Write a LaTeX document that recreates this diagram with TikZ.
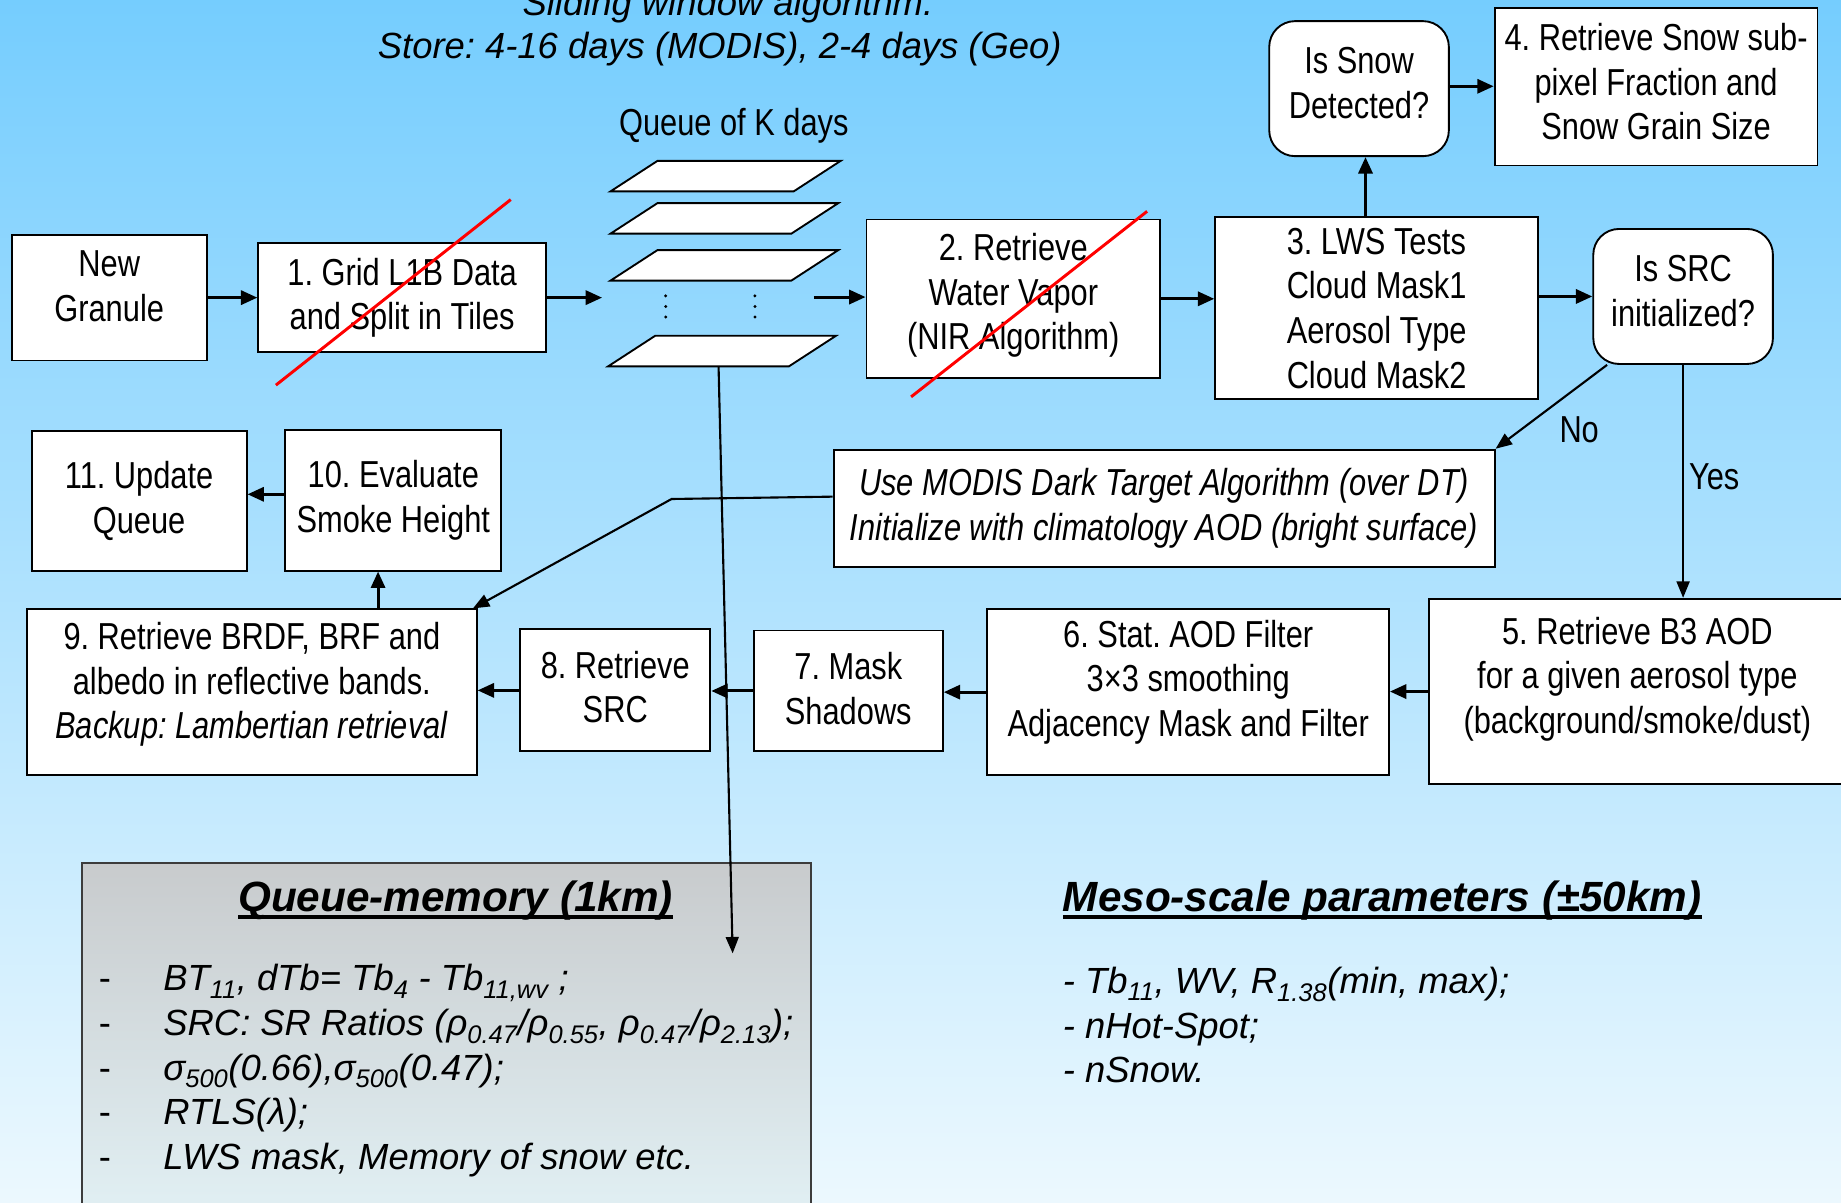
\documentclass[tikz,border=0pt]{standalone}
\usepackage{fontspec}
\setmainfont{Liberation Sans}
\newfontfamily\narrowfont[FakeStretch=0.82]{Liberation Sans}
\usetikzlibrary{arrows.meta,calc}
\definecolor{bgtop}{RGB}{117,205,254}
\definecolor{bgmid}{RGB}{170,222,252}
\definecolor{bgbot}{RGB}{236,248,254}
\definecolor{qtop}{RGB}{200,203,205}
\definecolor{qbot}{RGB}{226,241,245}
\definecolor{qborder}{RGB}{60,60,60}
\newcommand\thickul[1]{\setbox0\hbox{#1}\rlap{\rule[-6pt]{\wd0}{2.6pt}}\box0}
\frenchspacing
\begin{document}
\begin{tikzpicture}[x=1pt,y=-1pt,
 blk/.style={draw=black, line width=1.6pt, fill=white, align=center, font=\narrowfont\fontsize{32}{38}\selectfont\frenchspacing, inner sep=0pt},
 rblk/.style={blk, rounded corners=22pt},
 flowarrow/.style={line width=2.6pt, -{Triangle[length=14pt,width=12pt]}},
 slim/.style={line width=1.8pt, -{Triangle[length=14pt,width=11pt]}},
 lbl/.style={font=\narrowfont\fontsize{32}{38}\selectfont, inner sep=0pt},
 tile/.style={draw=black, line width=1.6pt, fill=white},
 strike/.style={draw=red, line width=2.5pt},
 rtext/.style={font=\fontsize{31}{38}\selectfont\frenchspacing, inner sep=0pt, align=left},
 head/.style={font=\fontsize{36}{40}\selectfont\bfseries\itshape, inner sep=0pt},
]
\useasboundingbox (0,0) rectangle (1568,1024);
\clip (0,0) rectangle (1568,1024);
\shade[top color=bgtop, middle color=bgmid, bottom color=bgbot] (0,0) rectangle (1568,1024);

% titles
\node[font=\fontsize{31}{37}\selectfont\itshape\frenchspacing, inner sep=0pt] (t1) at (620,5) {Sliding window algorithm.};
\node[font=\fontsize{31}{37}\selectfont\itshape\frenchspacing, inner sep=0pt] (t2) at (613,42) {Store: 4-16 days (MODIS), 2-4 days (Geo)};
\node[lbl] (qlabel) at (625,107) {Queue of K days};

% queue tiles
\draw[tile] (560,137) -- (716,137) -- (676,163) -- (520,163) -- cycle;
\draw[tile] (560,173) -- (714,173) -- (674,199) -- (520,199) -- cycle;
\draw[tile] (560,213) -- (714,213) -- (674,239) -- (520,239) -- cycle;
\draw[tile] (558,286) -- (712,286) -- (672,312) -- (518,312) -- cycle;
\foreach \x in {567,643} \foreach \y in {252,261,270} \fill (\x,\y) circle (1.4);
\node[minimum width=180, minimum height=175, inner sep=0pt] (queue) at (603,224.5) {};
\coordinate (qtail) at (612,312);
\coordinate (qhead) at (624,812);

% boxes
\node[blk, minimum width=166, minimum height=107, text depth=20pt] (newg) at (93,253.5) {New\\Granule};
\node[blk, minimum width=245, minimum height=93] (grid) at (342.5,253.5) {1. Grid L1B Data\\and Split in Tiles};
\node[blk, minimum width=250, minimum height=135, text depth=12pt] (wv) at (863,254.5) {2. Retrieve\\Water Vapor\\(NIR Algorithm)};
\node[blk, minimum width=275, minimum height=155, align=left] (lws) at (1172.5,262.5) {3. LWS Tests\\Cloud Mask1\\Aerosol Type\\Cloud Mask2};
\node[rblk, minimum width=153, minimum height=115, text depth=10pt] (snow) at (1157.5,75.5) {Is Snow\\Detected?};
\node[blk, minimum width=275, minimum height=134, text depth=9pt] (b4) at (1410.5,74) {4. Retrieve Snow sub-\\pixel Fraction and\\Snow Grain Size};
\node[rblk, minimum width=153, minimum height=115, text depth=10pt] (src) at (1433.5,252.5) {Is SRC\\initialized?};
\node[blk, minimum width=563, minimum height=100, font=\narrowfont\fontsize{32}{38}\selectfont\itshape] (modis) at (991.5,433) {Use MODIS Dark Target Algorithm (over DT)\\Initialize with climatology AOD (bright surface)};
\node[blk, minimum width=355, minimum height=158, text depth=28pt] (b5) at (1394.5,589) {5. Retrieve B3 AOD\\for a given aerosol type\\(background/smoke/dust)};
\node[blk, minimum width=342, minimum height=141, text depth=24pt] (b6) at (1012,589.5) {6. Stat. AOD Filter\\3\texttimes3 smoothing\\Adjacency Mask and Filter};
\node[blk, minimum width=161, minimum height=103, text depth=4pt] (b7) at (722.5,588.5) {7. Mask\\Shadows};
\node[blk, minimum width=162, minimum height=104, text depth=6pt] (b8) at (524,588) {8. Retrieve\\SRC};
\node[blk, minimum width=383, minimum height=141, text depth=20pt] (b9) at (214.5,589.5) {9. Retrieve BRDF, BRF and\\albedo in reflective bands.\\\textit{Backup: Lambertian retrieval}};
\node[blk, minimum width=184, minimum height=120] (b10) at (335,426) {10. Evaluate\\Smoke Height};
\node[blk, minimum width=183, minimum height=119] (b11) at (118.5,426.5) {11. Update\\Queue};

% red strike lines
\draw[strike] (235,328) -- (435,170);
\draw[strike] (776,338) -- (977,180);

% connectors
\draw[flowarrow] (newg.east) -- (newg.east -| grid.west);
\draw[flowarrow] (grid.east) -- (grid.east -| queue.west);
\draw[flowarrow] ([yshift=1.5pt]wv.west -| queue.east) -- ([yshift=1.5pt]wv.west);
\draw[flowarrow] (wv.east) -- (wv.east -| lws.west);
\draw[flowarrow] ([xshift=5.5pt]snow.south |- lws.north) -- ([xshift=5.5pt]snow.south);
\draw[flowarrow] ([yshift=2pt]snow.east) -- ([yshift=2pt]snow.east -| b4.west);
\draw[flowarrow] (src.west -| lws.east) -- (src.west);
\draw[slim] (src.222) -- (modis.north east);
\node[lbl] (nolbl) at (1345,366) {No};
\draw[slim] (src.south) -- (src.south |- b5.north);
\node[lbl] (yeslbl) at (1460,406) {Yes};
\coordinate (bend) at (572,425);
\draw[slim] ([yshift=10pt]modis.west) -- (bend) -- ([xshift=-4pt]b9.north east);
\draw[flowarrow] (b5.west) -- (b5.west -| b6.east);
\draw[flowarrow] (b6.west) -- (b6.west -| b7.east);
\draw[flowarrow] (b7.west) -- (b7.west -| b8.east);
\draw[flowarrow] (b8.west) -- (b8.west -| b9.east);
\draw[flowarrow] ([xshift=-13pt]b10.south |- b9.north) -- ([xshift=-13pt]b10.south);
\draw[flowarrow] ([yshift=5pt]b10.west) -- ([yshift=5pt]b10.west -| b11.east);

% queue memory
\node[draw=qborder, line width=1.6pt, top color=qtop, bottom color=qbot, minimum width=621, minimum height=310, anchor=north west, inner sep=0pt] (qmem) at (69,734) {};
\node[head] (qmemhead) at (388,767) {\thickul{Queue-memory (1km)}};
\node[rtext, anchor=west] (qmemitems) at (84,912) {%
\makebox[55pt][l]{-}\textit{BT\textsubscript{11}, dTb= Tb\textsubscript{4} - Tb\textsubscript{11,wv} ;}\\
\makebox[55pt][l]{-}\textit{SRC: SR Ratios (ρ\textsubscript{0.47}/ρ\textsubscript{0.55}, ρ\textsubscript{0.47}/ρ\textsubscript{2.13});}\\
\makebox[55pt][l]{-}\textit{σ\textsubscript{500}(0.66),σ\textsubscript{500}(0.47);}\\
\makebox[55pt][l]{-}\textit{RTLS(λ);}\\
\makebox[55pt][l]{-}\textit{LWS mask, Memory of snow etc.}};
\draw[slim] (qtail) -- (qhead);

% meso-scale
\node[head, anchor=west] (mesohead) at (905,767) {\thickul{Meso-scale parameters (±50km)}};
\node[rtext, anchor=west, font=\fontsize{31}{38}\selectfont\itshape] (mesoitems) at (905,873) {%
- Tb\textsubscript{11}, WV, R\textsubscript{1.38}(min, max);\\
- nHot-Spot;\\
- nSnow.};
\end{tikzpicture}
\end{document}
